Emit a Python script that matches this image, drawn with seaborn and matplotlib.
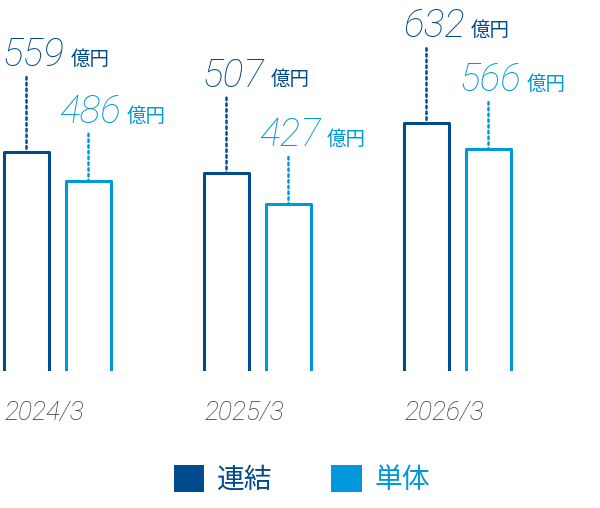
import matplotlib
matplotlib.use('Agg')
import matplotlib.pyplot as plt
import matplotlib.transforms as mtransforms
import seaborn as sns
import pandas as pd
from matplotlib.patches import Patch

# data
years = ['2024/3', '2025/3', '2026/3']
series = ['連結', '単体']
consolidated = [559, 507, 632]
standalone = [486, 427, 566]
unit = '億円'

colors = {'連結': '#004b8d', '単体': '#0098db'}
label_offset = {'連結': (-17, 62), '単体': (-21, 42)}  # points from bar top
num_font = ['Roboto', 'DejaVu Sans']

df = pd.DataFrame({
    'year': years * 2,
    'kind': [series[0]] * len(years) + [series[1]] * len(years),
    'value': consolidated + standalone,
})

sns.set_style('white')
plt.rcParams['font.family'] = ['Roboto', 'Noto Sans CJK JP', 'DejaVu Sans']

fig = plt.figure(figsize=(6, 5.08), dpi=100)
ax = fig.add_axes([0, 137 / 508, 1, 371 / 508])

sns.barplot(data=df, x='year', y='value', hue='kind', hue_order=series,
            palette=colors, fill=False, width=0.62, gap=0.29, linewidth=2.2,
            errorbar=None, legend=False, ax=ax)

ax.set_xlim(-0.2875, 2.7125)
ax.set_ylim(5, 944)
ax.set_xticks([])
ax.set_yticks([])
ax.set_xlabel('')
ax.set_ylabel('')
sns.despine(ax=ax, left=True, bottom=True)

for container, kind in zip(ax.containers, series):
    c = colors[kind]
    dx, dy = label_offset[kind]
    for bar in container:
        bar.set_joinstyle('round')
        x = bar.get_x() + bar.get_width() / 2
        h = bar.get_height()
        # dotted leader line
        ax.annotate('', xy=(x, h), xytext=(0, dy - 8), textcoords='offset points',
                    arrowprops=dict(arrowstyle='-', color=c, lw=1.8,
                                    linestyle=(0, (1.0, 1.3)),
                                    shrinkA=0, shrinkB=0))
        num = ax.annotate(f'{h:.0f}', xy=(x, h), xytext=(dx, dy),
                          textcoords='offset points', ha='left', va='baseline',
                          fontsize=28, style='italic', fontweight='light',
                          color=c, family=num_font)
        ax.annotate(unit, xy=(1, 0), xycoords=num, xytext=(4, 3),
                    textcoords='offset points', ha='left', va='bottom',
                    fontsize=14, color=c, family=['Noto Sans CJK JP'])

# year labels, left aligned with each group
trans = mtransforms.blended_transform_factory(ax.transData, ax.transAxes)
for bar, year in zip(ax.containers[0], years):
    ax.text(bar.get_x(), -0.082, year, transform=trans, ha='left', va='top',
            fontsize=19, style='italic', fontweight='light', color='#333333',
            family=num_font)

handles = [Patch(facecolor=colors[k], edgecolor='none') for k in series]
fig.legend(handles=handles, labels=series, loc='center',
           bbox_to_anchor=(302 / 600, 1 - 480 / 508), ncol=2, frameon=False,
           prop={'family': 'Noto Sans CJK JP', 'size': 20},
           handlelength=1.1, handleheight=1.1, handletextpad=0.47,
           columnspacing=2.1, labelcolor=[colors[k] for k in series])

fig.savefig('out.png', dpi=100)
